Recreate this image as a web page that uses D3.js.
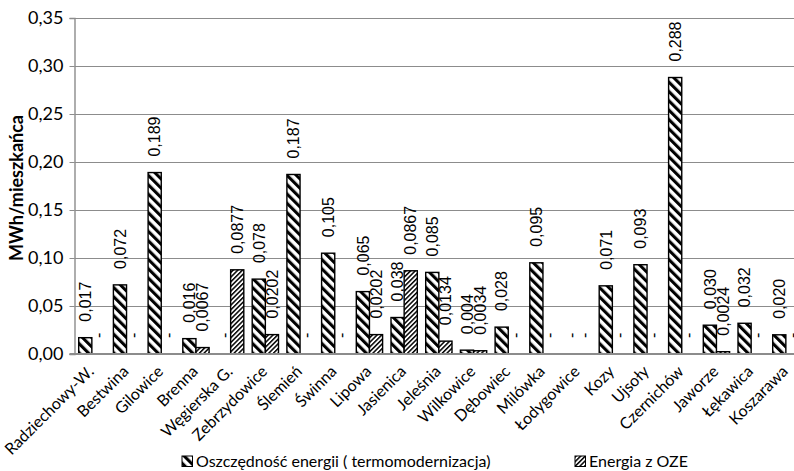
<!DOCTYPE html>
<html>
<head>
<meta charset="utf-8">
<script src="https://cdn.jsdelivr.net/npm/d3@7"></script>
<style>
  html, body { margin: 0; padding: 0; background: #fff; }
  svg { display: block; }
</style>
</head>
<body>
<svg id="chart" width="794" height="471"></svg>
<script>
// Energy per inhabitant by commune (MWh/mieszkańca)
const categories = ["Radziechowy-W.", "Bestwina", "Gilowice", "Brenna", "Węgierska G.", "Zebrzydowice",
  "Ślemień", "Świnna", "Lipowa", "Jasienica", "Jeleśnia", "Wilkowice", "Dębowiec", "Milówka",
  "Łodygowice", "Kozy", "Ujsoły", "Czernichów", "Jaworze", "Łękawica", "Koszarawa"];
const savings = [0.017, 0.072, 0.189, 0.016, 0, 0.078, 0.187, 0.105, 0.065, 0.038, 0.085, 0.004,
  0.028, 0.095, 0, 0.071, 0.093, 0.288, 0.030, 0.032, 0.020];
const renewable = [0, 0, 0, 0.0067, 0.0877, 0.0202, 0, 0, 0.0202, 0.0867, 0.0134, 0.0034,
  0, 0, 0, 0, 0, 0, 0.0024, 0, 0];
const seriesNames = ["Oszczędność energii ( termomodernizacja)", "Energia z OZE"];
const seriesDecimals = [3, 4];
const yTicks = [0, 0.05, 0.10, 0.15, 0.20, 0.25, 0.30, 0.35];
const yTitle = "MWh/mieszkańca";

const plFmt = d3.formatLocale({ decimal: ",", thousands: " ", grouping: [3], currency: ["", " zł"] });
const tickFmt = plFmt.format(".2f");
const valueFmts = seriesDecimals.map(d => plFmt.format("." + d + "f"));

const svg = d3.select("#chart");
const margin = { left: 74.5, top: 18, bottom: 354 };
const step = 34.7;
const plotRight = margin.left + categories.length * step;

const x0 = d3.scaleBand().domain(categories).range([margin.left, plotRight])
  .paddingInner(0.242).paddingOuter(0.121);
const x1 = d3.scaleBand().domain([0, 1]).range([0, x0.bandwidth()]).padding(0);
const y = d3.scaleLinear().domain([0, 0.35]).range([margin.bottom, margin.top]);

// Hatch fills
const defs = svg.append("defs");
function hatch(id, period, band, angle) {
  const p = defs.append("pattern").attr("id", id)
    .attr("patternUnits", "userSpaceOnUse")
    .attr("width", period).attr("height", period)
    .attr("patternTransform", `rotate(${angle})`);
  p.append("rect").attr("width", period).attr("height", period).attr("fill", "#fff");
  p.append("rect").attr("width", band).attr("height", period).attr("fill", "#000");
}
hatch("hatchSavings", 6.6, 3.1, -45);
hatch("hatchOze", 3.3, 1.5, 45);
const fills = ["url(#hatchSavings)", "url(#hatchOze)"];

// Grid
svg.append("g").selectAll("line").data(yTicks.slice(1)).join("line")
  .attr("x1", margin.left).attr("x2", plotRight)
  .attr("y1", d => Math.round(y(d)) + 0.5).attr("y2", d => Math.round(y(d)) + 0.5)
  .attr("stroke", "#8c8c8c").attr("stroke-width", 1);

// Bars
const rows = categories.map((c, i) => ({ c, vals: [savings[i], renewable[i]] }));
const groups = svg.append("g").selectAll("g").data(rows).join("g")
  .attr("transform", d => `translate(${x0(d.c)},0)`);

groups.selectAll("rect").data(d => d.vals.map((v, s) => ({ v, s })).filter(e => e.v > 0)).join("rect")
  .attr("x", e => x1(e.s))
  .attr("width", x1.bandwidth())
  .attr("y", e => y(e.v))
  .attr("height", e => y(0) - y(e.v))
  .attr("fill", e => fills[e.s])
  .attr("stroke", "#000").attr("stroke-width", 1.4);

// Value labels (dash for empty values)
groups.selectAll("text").data(d => d.vals.map((v, s) => ({ v, s }))).join("text")
  .attr("transform", e => `translate(${x1(e.s) + x1.bandwidth() / 2},${y(e.v) - 16}) rotate(-90)`)
  .attr("dy", "0.36em")
  .attr("text-anchor", "start")
  .attr("font-family", "Liberation Sans, Arial, sans-serif")
  .attr("font-size", 16)
  .attr("fill", "#000")
  .text(e => e.v > 0 ? valueFmts[e.s](e.v) : "-");

// Y axis
const yAxis = svg.append("g").attr("transform", `translate(${margin.left},0)`)
  .call(d3.axisLeft(y).tickValues(yTicks).tickFormat(tickFmt).tickSize(5).tickPadding(6));
yAxis.select(".domain").attr("stroke", "#8c8c8c").attr("stroke-width", 1.4);
yAxis.selectAll(".tick line").attr("stroke", "#8c8c8c");
yAxis.selectAll(".tick text").attr("font-family", "Lato, sans-serif").attr("font-size", 18).attr("fill", "#000");

// X axis baseline
svg.append("line").attr("x1", margin.left - 5).attr("x2", plotRight)
  .attr("y1", y(0)).attr("y2", y(0))
  .attr("stroke", "#8c8c8c").attr("stroke-width", 2);

// Category labels
svg.append("g").selectAll("text").data(categories).join("text")
  .attr("transform", d => `translate(${x0(d) + x0.bandwidth() / 2 - 5.5},${y(0) + 10}) rotate(-45)`)
  .attr("dy", "0.75em")
  .attr("text-anchor", "end")
  .attr("font-family", "Lato, sans-serif").attr("font-size", 16).attr("fill", "#000")
  .text(d => d);

// Y title
svg.append("text")
  .attr("transform", `translate(23,188) rotate(-90)`)
  .attr("text-anchor", "middle")
  .attr("font-family", "Lato, sans-serif").attr("font-weight", "bold").attr("font-size", 18)
  .attr("fill", "#000")
  .text(yTitle);

// Legend
const legendX = [182, 575];
const legend = svg.append("g").selectAll("g").data(seriesNames).join("g")
  .attr("transform", (d, i) => `translate(${legendX[i]},456)`);
legend.append("rect").attr("width", 10.5).attr("height", 10.5)
  .attr("fill", (d, i) => fills[i]).attr("stroke", "#000").attr("stroke-width", 1);
legend.append("text").attr("x", 14).attr("y", 5.5).attr("dy", "0.36em")
  .attr("font-family", "Lato, sans-serif").attr("font-size", 16).attr("fill", "#000")
  .text(d => d);
</script>
</body>
</html>
